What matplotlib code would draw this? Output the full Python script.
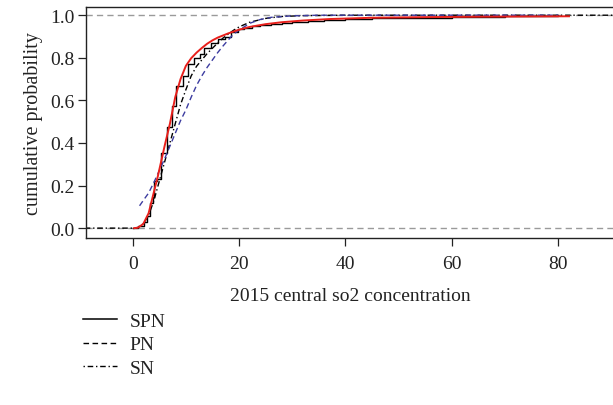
import numpy as np
import matplotlib
matplotlib.use("Agg")
from matplotlib import pyplot as plt
from matplotlib.lines import Line2D

plt.rcParams['font.family'] = ['Liberation Serif', 'DejaVu Serif']

# empirical cdf (step positions and levels)
ecdf_x = [0.0, 1.0, 2.2, 2.7, 3.2, 3.8, 4.1, 4.6, 5.3, 6.4, 7.4, 8.2, 9.4, 10.4, 11.6, 12.6,
          13.5, 14.8, 16.0, 17.3, 18.5, 19.8, 21.0, 22.5, 24.0, 26.0, 28.0, 30.0, 33.0,
          36.0, 40.0, 45.0, 50.0, 60.0, 70.0, 80.0]
ecdf_y = [0.0, 0.008, 0.03, 0.058, 0.12, 0.145, 0.22, 0.23, 0.355, 0.473, 0.574, 0.668, 0.715,
          0.77, 0.80, 0.817, 0.848, 0.87, 0.887, 0.90, 0.92, 0.934, 0.94, 0.948, 0.955, 0.96,
          0.965, 0.97, 0.975, 0.978, 0.982, 0.986, 0.989, 0.992, 0.995, 1.0]

# SPN fit (red)
spn_x = [0.3, 1, 2, 3, 3.5, 4, 4.75, 6, 7, 8, 9, 10, 11, 12, 13, 14, 15, 16, 18, 20, 22, 25,
         28, 32, 37, 45, 55, 65, 82]
spn_y = [0.0, 0.002, 0.02, 0.07, 0.12, 0.17, 0.245, 0.385, 0.49, 0.615, 0.70, 0.762, 0.798,
         0.824, 0.846, 0.866, 0.882, 0.895, 0.915, 0.932, 0.945, 0.958, 0.967, 0.975, 0.982,
         0.988, 0.991, 0.993, 0.995]

# PN fit (blue dashed)
pn_x = [1.3, 2, 3, 4, 5, 6, 7, 8, 9, 10, 11, 12, 13, 14, 15, 16, 17, 18, 19, 20, 22, 24, 26,
        30, 35, 80]
pn_y = [0.105, 0.13, 0.165, 0.215, 0.27, 0.325, 0.385, 0.445, 0.505, 0.555, 0.615, 0.67,
        0.715, 0.755, 0.79, 0.825, 0.856, 0.885, 0.912, 0.93, 0.962, 0.98, 0.99, 0.997,
        1.0, 1.0]

# SN fit (black dot-dash)
sn_x = [-9, 0, 1, 2, 3, 4, 5, 6, 7, 8, 9, 10, 11, 12, 13, 14, 15, 16, 17, 18, 19, 20, 22,
        25, 28, 32, 40, 91]
sn_y = [0.0, 0.0, 0.003, 0.02, 0.06, 0.13, 0.22, 0.31, 0.40, 0.49, 0.58, 0.65, 0.715, 0.76,
        0.79, 0.82, 0.845, 0.87, 0.893, 0.912, 0.93, 0.945, 0.967, 0.985, 0.994, 0.998,
        1.0, 1.0]

fs = 14

fig = plt.figure(figsize=(6.13, 4.06), dpi=100)
ax = fig.add_axes([0.140, 0.411, 0.862, 0.569])

ax.axhline(0, color='#9a9a9a', lw=1, dashes=(4.5, 3))
ax.axhline(1, color='#9a9a9a', lw=1, dashes=(4.5, 3))

ax.step(ecdf_x, ecdf_y, where='post', color='black', lw=1.0)
ax.plot(sn_x, sn_y, color='black', lw=1.0, dashes=(4, 2, 1, 2))
ax.plot(pn_x, pn_y, color='#3c3ca0', lw=1.0, dashes=(4, 2.5))
ax.plot(spn_x, spn_y, color='#e8201c', lw=1.4)

ax.set_xlim(-8.8, 90.5)
ax.set_ylim(-0.047, 1.038)
ax.set_xticks([0, 20, 40, 60, 80])
ax.set_yticks([0.0, 0.2, 0.4, 0.6, 0.8, 1.0])
ax.set_yticklabels(['0.0', '0.2', '0.4', '0.6', '0.8', '1.0'])
ax.tick_params(labelsize=fs, length=6, width=0.9, direction='out', colors='#222222')
ax.tick_params(axis='y', pad=2)
ax.tick_params(axis='x', pad=6)
for s in ax.spines.values():
    s.set_linewidth(1.0)
    s.set_color('#222222')

ax.set_xlabel('2015 central so2 concentration', fontsize=fs, labelpad=11, color='#222222')
ax.set_ylabel('cumulative probability', fontsize=14.5, labelpad=5, color='#222222')

handles = [Line2D([], [], color='black', lw=1.1),
           Line2D([], [], color='black', lw=1.0, dashes=(4, 2.5)),
           Line2D([], [], color='black', lw=1.0, dashes=(1, 2, 4, 2))]
fig.legend(handles, ['SPN', 'PN', 'SN'], loc='upper left', bbox_to_anchor=(0.135, 0.228),
           frameon=False, fontsize=fs, handlelength=1.75, handletextpad=0.65,
           labelspacing=0.3, borderaxespad=0, borderpad=0, labelcolor='#222222')

plt.savefig('out.png', dpi=100)
plt.close()
